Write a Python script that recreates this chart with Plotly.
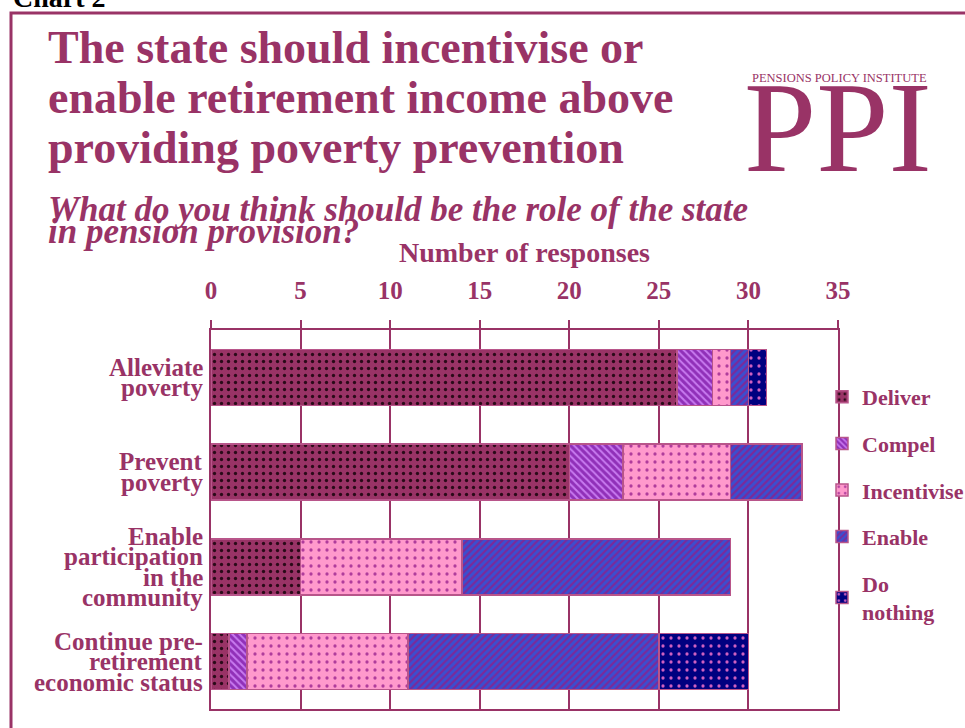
import plotly.graph_objects as go

# ---------------- data ----------------
categories = ["Alleviate poverty", "Prevent poverty",
              "Enable participation in the community",
              "Continue pre-retirement economic status"]
tick_labels = ["Alleviate<br>poverty", "Prevent<br>poverty",
               "Enable<br>participation<br>in the<br>community",
               "Continue pre-<br>retirement<br>economic status"]
series_names = ["Deliver", "Compel", "Incentivise", "Enable", "Do<br>nothing"]
deliver = [26, 20, 5, 1]
compel = [2, 3, 0, 1]
incentivise = [1, 6, 9, 9]
enable = [1, 4, 15, 14]
do_nothing = [1, 0, 0, 5]
x_ticks = [0, 5, 10, 15, 20, 25, 30, 35]
series_values = [deliver, compel, incentivise, enable, do_nothing]

# ---------------- styling ----------------
W, H = 965, 728
OFF = 0                      # page body margin (removed via post_script)
PLOT_L, PLOT_T = 211, 330    # plot area, in window pixels
PW, PH = 627, 379
ML, MT = PLOT_L - OFF, PLOT_T - OFF
MR, MB = W - ML - PW, H - MT - PH
MAG = "#993366"
FONT = "Liberation Serif"


def px(x):
    return (x - PLOT_L) / PW


def py(y):
    return (PLOT_T + PH - y) / PH


styles = [
    dict(bg="#993366", fg="#2a0a18", shape=".", size=7, solidity=0.18),
    dict(bg="#9030b8", fg="#c87af0", shape="\\", size=5, solidity=0.4),
    dict(bg="#ff99cc", fg="#b03c9c", shape=".", size=8, solidity=0.13),
    dict(bg="#3a4fd0", fg="#7a2a9a", shape="/", size=5, solidity=0.45),
    dict(bg="#000080", fg="#d060c0", shape=".", size=8, solidity=0.13),
]

fig = go.Figure()
for i, (name, vals, st) in enumerate(zip(series_names, series_values, styles)):
    fig.add_trace(go.Bar(
        y=categories, x=vals, name=name, orientation="h",
        legendgroup=f"g{i}",
        marker=dict(color=st["bg"],
                    line=dict(color="#b8558a", width=1.5),
                    pattern=dict(shape=st["shape"], bgcolor=st["bg"],
                                 fgcolor=st["fg"], size=st["size"],
                                 solidity=st["solidity"], fillmode="replace")),
        hoverinfo="x+name",
    ))

annotations = []
# category labels (tight line spacing)
for cat, lab in zip(categories, tick_labels):
    lines = lab.split("<br>")
    n = len(lines)
    for j, line in enumerate(lines):
        annotations.append(dict(
            x=0, xref="paper", xanchor="right", xshift=-6,
            y=cat, yref="y", yanchor="middle",
            yshift=((n - 1) / 2 - j) * 20.5,
            text=f"<b>{line}</b>", showarrow=False, align="right",
            font=dict(family=FONT, size=25, color=MAG)))

# titles
title_lines = ["The state should incentivise or",
               "enable retirement income above",
               "providing poverty prevention"]
for k, line in enumerate(title_lines):
    annotations.append(dict(
        x=px(46), xref="paper", xanchor="left",
        y=py(47 + 50 * k), yref="paper", yanchor="middle",
        text=f"<b>{line}</b>", showarrow=False,
        font=dict(family=FONT, size=46, color=MAG)))

sub_lines = ["What do you think should be the role of the state",
             "in pension provision?"]
for k, line in enumerate(sub_lines):
    annotations.append(dict(
        x=px(46), xref="paper", xanchor="left",
        y=py(209 + 22 * k), yref="paper", yanchor="middle",
        text=f"<b><i>{line}</i></b>", showarrow=False,
        font=dict(family=FONT, size=35, color=MAG)))

annotations.append(dict(
    x=px(11), xref="paper", xanchor="left",
    y=py(15), yref="paper", yanchor="bottom",
    text="<b>Chart 2</b>", showarrow=False,
    font=dict(family=FONT, size=28, color="black")))

annotations.append(dict(
    x=px(839), xref="paper", xanchor="center",
    y=py(78), yref="paper", yanchor="middle",
    text="PENSIONS POLICY INSTITUTE", showarrow=False,
    font=dict(family=FONT, size=12.5, color=MAG)))
annotations.append(dict(
    x=px(838), xref="paper", xanchor="center",
    y=py(127), yref="paper", yanchor="middle",
    text="PPI", showarrow=False,
    font=dict(family=FONT, size=130, color=MAG)))

shapes = [dict(type="rect", xref="paper", yref="paper",
               x0=px(11), x1=px(1010), y0=py(13), y1=py(780),
               line=dict(color=MAG, width=3), fillcolor="rgba(0,0,0,0)",
               layer="below")]

fig.update_layout(
    width=W, height=H,
    margin=dict(l=ML, r=MR, t=MT, b=MB, autoexpand=False),
    paper_bgcolor="white", plot_bgcolor="white",
    barmode="stack", bargap=0.41,
    font=dict(family=FONT, color=MAG),
    showlegend=True,
    legend=dict(xref="container", yref="container",
                x=(822 - OFF) / W, y=1 - (376 - OFF) / H,
                xanchor="left", yanchor="top",
                traceorder="grouped", tracegroupgap=15,
                bgcolor="rgba(0,0,0,0)",
                font=dict(family=FONT, size=22, color=MAG, weight="bold")),
    annotations=annotations,
    shapes=shapes,
    xaxis=dict(side="top", range=[0, 35], tickvals=x_ticks,
               ticks="outside", ticklen=8, tickcolor=MAG, tickwidth=1.5,
               ticklabelstandoff=11,
               tickfont=dict(family=FONT, size=25, color=MAG, weight="bold"),
               showgrid=True, gridcolor=MAG, gridwidth=1.5,
               zeroline=False, showline=True, linecolor=MAG, linewidth=2,
               mirror=True,
               title=dict(text="<b>Number of responses</b>", standoff=6,
                          font=dict(family=FONT, size=28, color=MAG))),
    yaxis=dict(type="category", categoryorder="array", categoryarray=categories,
               range=[3.5, -0.5], showticklabels=False, ticks="",
               showgrid=False, zeroline=False, showline=True,
               linecolor=MAG, linewidth=2, mirror=True),
)

fig.write_html("out.html",
               config={"displayModeBar": False},
               post_script="document.body.style.margin='0';")
